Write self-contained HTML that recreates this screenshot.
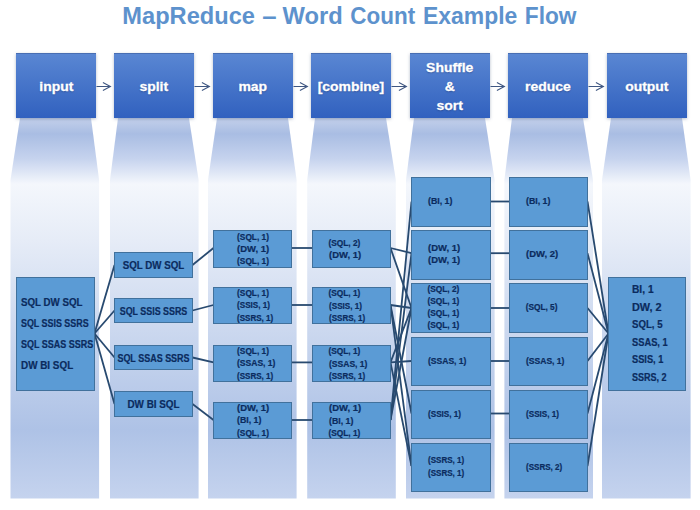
<!DOCTYPE html><html><head><meta charset="utf-8"><style>
html,body{margin:0;padding:0}
body{width:700px;height:510px;position:relative;overflow:hidden;background:#fff;font-family:"Liberation Sans",sans-serif;font-weight:bold}
.a{position:absolute}
.title{position:absolute;left:0;top:0;width:700px;text-align:center;color:#5b8cc8;font-size:23.3px;line-height:23px}
.hdr{position:absolute;background:linear-gradient(#5a87d3,#3161bf);box-shadow:inset 0 1px 0 rgba(50,80,140,0.45),0 1px 3px rgba(50,70,110,0.35);color:#fff;font-size:13.4px;text-align:center;display:flex;align-items:center;justify-content:center;line-height:19px;padding-top:2px;box-sizing:border-box}
.hdr span{display:inline-block;transform:scaleX(1.04);-webkit-text-stroke:0.3px #fff;text-shadow:0 1px 1.5px rgba(0,0,40,0.3)}
.bx{position:absolute;box-sizing:border-box;-webkit-text-stroke:0.2px #0b2b5e;background:#5b9bd5;border:1px solid #41719c;color:#0b2b5e;white-space:nowrap}
.s8{font-size:8px;line-height:12.7px}
</style></head><body>

<svg class="a" style="left:0;top:0" width="700" height="510">
<defs><linearGradient id="cg" x1="0" y1="119" x2="0" y2="499" gradientUnits="userSpaceOnUse">
<stop offset="0" stop-color="#c2cfea"/>
<stop offset="0.039" stop-color="#a9bde3"/>
<stop offset="0.105" stop-color="#c6d3ee"/>
<stop offset="0.171" stop-color="#f4f7fc"/>
<stop offset="0.318" stop-color="#e6ecf7"/>
<stop offset="0.818" stop-color="#aec2e6"/>
<stop offset="1" stop-color="#c5d3ee"/>
</linearGradient></defs>
<polygon fill="url(#cg)" points="20.0,118.0 91.0,118.0 99.1,180.0 99.1,498.5 10.5,498.5 10.5,180.0"/>
<polygon fill="url(#cg)" points="118.0,118.0 189.0,118.0 198.6,180.0 198.6,498.5 110.0,498.5 110.0,180.0"/>
<polygon fill="url(#cg)" points="217.0,118.0 288.0,118.0 296.6,180.0 296.6,498.5 208.0,498.5 208.0,180.0"/>
<polygon fill="url(#cg)" points="315.0,118.0 386.0,118.0 395.8,180.0 395.8,498.5 307.2,498.5 307.2,180.0"/>
<polygon fill="url(#cg)" points="414.0,118.0 485.0,118.0 494.6,180.0 494.6,498.5 406.0,498.5 406.0,180.0"/>
<polygon fill="url(#cg)" points="512.0,118.0 583.0,118.0 593.0,180.0 593.0,498.5 504.4,498.5 504.4,180.0"/>
<polygon fill="url(#cg)" points="611.0,118.0 682.0,118.0 690.6,180.0 690.6,498.5 602.0,498.5 602.0,180.0"/>
</svg>
<div class="a" style="left:123.45px;top:2.9px;color:#5d92cd;font-size:23.4px;line-height:26px;white-space:nowrap;transform:scaleX(1.010);transform-origin:66.00px 0">MapReduce</div><div class="a" style="left:262.50px;top:2.9px;color:#5d92cd;font-size:23.4px;line-height:26px;white-space:nowrap;transform:scaleX(1.100);transform-origin:6.50px 0">–</div><div class="a" style="left:283.30px;top:2.9px;color:#5d92cd;font-size:23.4px;line-height:26px;white-space:nowrap;transform:scaleX(1.015);transform-origin:28.95px 0">Word</div><div class="a" style="left:349.25px;top:2.9px;color:#5d92cd;font-size:23.4px;line-height:26px;white-space:nowrap;transform:scaleX(0.960);transform-origin:34.10px 0">Count</div><div class="a" style="left:421.80px;top:2.9px;color:#5d92cd;font-size:23.4px;line-height:26px;white-space:nowrap;transform:scaleX(0.980);transform-origin:48.50px 0">Example</div><div class="a" style="left:523.85px;top:2.9px;color:#5d92cd;font-size:23.4px;line-height:26px;white-space:nowrap;transform:scaleX(0.970);transform-origin:27.45px 0">Flow</div>
<div class="hdr" style="left:16.0px;top:53px;width:80px;height:65px"><span>input</span></div>
<div class="hdr" style="left:114.0px;top:53px;width:80px;height:65px"><span>split</span></div>
<div class="hdr" style="left:213.0px;top:53px;width:80px;height:65px"><span>map</span></div>
<div class="hdr" style="left:311.0px;top:53px;width:80px;height:65px"><span>[combine]</span></div>
<div class="hdr" style="left:410.0px;top:53px;width:80px;height:65px"><span>Shuffle<br>&amp;<br>sort</span></div>
<div class="hdr" style="left:508.0px;top:53px;width:80px;height:65px"><span>reduce</span></div>
<div class="hdr" style="left:607.0px;top:53px;width:80px;height:65px"><span>output</span></div>
<svg class="a" style="left:0;top:0" width="700" height="510">
<path d="M96.5 86.5 H110.4 M102.9 82.5 L110.4 86.5 L102.9 90.5" stroke="#3f5782" stroke-width="1.1" fill="none"/>
<path d="M194.5 86.5 H209.4 M201.9 82.5 L209.4 86.5 L201.9 90.5" stroke="#3f5782" stroke-width="1.1" fill="none"/>
<path d="M293.5 86.5 H307.4 M299.9 82.5 L307.4 86.5 L299.9 90.5" stroke="#3f5782" stroke-width="1.1" fill="none"/>
<path d="M391.5 86.5 H406.4 M398.9 82.5 L406.4 86.5 L398.9 90.5" stroke="#3f5782" stroke-width="1.1" fill="none"/>
<path d="M490.5 86.5 H504.4 M496.9 82.5 L504.4 86.5 L496.9 90.5" stroke="#3f5782" stroke-width="1.1" fill="none"/>
<path d="M588.5 86.5 H603.4 M595.9 82.5 L603.4 86.5 L595.9 90.5" stroke="#3f5782" stroke-width="1.1" fill="none"/>
</svg>
<svg class="a" style="left:0;top:0" width="700" height="510">
<line x1="94.5" y1="333.5" x2="114.5" y2="265.0" stroke="#284a70" stroke-width="1.8"/>
<line x1="94.5" y1="333.5" x2="114.5" y2="310.5" stroke="#284a70" stroke-width="1.8"/>
<line x1="94.5" y1="333.5" x2="114.5" y2="357.5" stroke="#284a70" stroke-width="1.8"/>
<line x1="94.5" y1="333.5" x2="114.5" y2="404.0" stroke="#284a70" stroke-width="1.8"/>
<line x1="192.5" y1="265.0" x2="213.5" y2="248.0" stroke="#284a70" stroke-width="1.8"/>
<line x1="192.5" y1="310.5" x2="213.5" y2="305.0" stroke="#284a70" stroke-width="1.8"/>
<line x1="192.5" y1="357.5" x2="213.5" y2="362.4" stroke="#284a70" stroke-width="1.8"/>
<line x1="192.5" y1="404.0" x2="213.5" y2="420.0" stroke="#284a70" stroke-width="1.8"/>
<line x1="291.5" y1="248.0" x2="312.5" y2="248.0" stroke="#284a70" stroke-width="1.8"/>
<line x1="291.5" y1="305.0" x2="312.5" y2="305.0" stroke="#284a70" stroke-width="1.8"/>
<line x1="291.5" y1="362.4" x2="312.5" y2="362.4" stroke="#284a70" stroke-width="1.8"/>
<line x1="291.5" y1="420.0" x2="312.5" y2="420.0" stroke="#284a70" stroke-width="1.8"/>
<line x1="390.5" y1="248.0" x2="411.5" y2="253.2" stroke="#284a70" stroke-width="1.8"/>
<line x1="390.5" y1="248.0" x2="411.5" y2="308.0" stroke="#284a70" stroke-width="1.8"/>
<line x1="390.5" y1="305.0" x2="411.5" y2="308.0" stroke="#284a70" stroke-width="1.8"/>
<line x1="390.5" y1="305.0" x2="411.5" y2="413.5" stroke="#284a70" stroke-width="1.8"/>
<line x1="390.5" y1="305.0" x2="411.5" y2="466.0" stroke="#284a70" stroke-width="1.8"/>
<line x1="390.5" y1="362.4" x2="411.5" y2="308.0" stroke="#284a70" stroke-width="1.8"/>
<line x1="390.5" y1="362.4" x2="411.5" y2="361.0" stroke="#284a70" stroke-width="1.8"/>
<line x1="390.5" y1="362.4" x2="411.5" y2="466.0" stroke="#284a70" stroke-width="1.8"/>
<line x1="390.5" y1="420.0" x2="411.5" y2="201.5" stroke="#284a70" stroke-width="1.8"/>
<line x1="390.5" y1="420.0" x2="411.5" y2="253.2" stroke="#284a70" stroke-width="1.8"/>
<line x1="390.5" y1="420.0" x2="411.5" y2="308.0" stroke="#284a70" stroke-width="1.8"/>
<line x1="490.5" y1="201.5" x2="509.5" y2="201.5" stroke="#284a70" stroke-width="1.8"/>
<line x1="490.5" y1="253.2" x2="509.5" y2="253.2" stroke="#284a70" stroke-width="1.8"/>
<line x1="490.5" y1="308.0" x2="509.5" y2="308.0" stroke="#284a70" stroke-width="1.8"/>
<line x1="490.5" y1="361.0" x2="509.5" y2="361.0" stroke="#284a70" stroke-width="1.8"/>
<line x1="490.5" y1="413.5" x2="509.5" y2="413.5" stroke="#284a70" stroke-width="1.8"/>
<line x1="587.5" y1="201.5" x2="608.5" y2="333.5" stroke="#284a70" stroke-width="1.8"/>
<line x1="587.5" y1="253.2" x2="608.5" y2="333.5" stroke="#284a70" stroke-width="1.8"/>
<line x1="587.5" y1="308.0" x2="608.5" y2="333.5" stroke="#284a70" stroke-width="1.8"/>
<line x1="587.5" y1="361.0" x2="608.5" y2="333.5" stroke="#284a70" stroke-width="1.8"/>
<line x1="587.5" y1="413.5" x2="608.5" y2="333.5" stroke="#284a70" stroke-width="1.8"/>
<line x1="587.5" y1="466.0" x2="608.5" y2="333.5" stroke="#284a70" stroke-width="1.8"/>
</svg>
<div class="bx" style="left:16.0px;top:277.0px;width:79.0px;height:114.0px;"><div class="a" style="left:3.8px;top:13.9px;font-size:10.3px;line-height:21px;transform:scaleX(0.946);transform-origin:0 0">SQL DW SQL</div><div class="a" style="left:3.8px;top:34.8px;font-size:10.3px;line-height:21px;transform:scaleX(0.864);transform-origin:0 0">SQL SSIS SSRS</div><div class="a" style="left:3.8px;top:55.7px;font-size:10.3px;line-height:21px;transform:scaleX(0.872);transform-origin:0 0">SQL SSAS SSRS</div><div class="a" style="left:3.8px;top:76.6px;font-size:10.3px;line-height:21px;transform:scaleX(0.960);transform-origin:0 0">DW BI SQL</div></div>
<div class="bx" style="left:114.0px;top:252.0px;width:79.0px;height:26.0px;"><div style="position:absolute;left:-20px;right:-20px;top:0.7px;text-align:center;font-size:10.3px;line-height:24.0px;transform:scaleX(0.946)">SQL DW SQL</div></div>
<div class="bx" style="left:114.0px;top:298.0px;width:79.0px;height:25.0px;"><div style="position:absolute;left:-20px;right:-20px;top:0.7px;text-align:center;font-size:10.3px;line-height:23.0px;transform:scaleX(0.864)">SQL SSIS SSRS</div></div>
<div class="bx" style="left:114.0px;top:345.0px;width:79.0px;height:25.0px;"><div style="position:absolute;left:-20px;right:-20px;top:0.7px;text-align:center;font-size:10.3px;line-height:23.0px;transform:scaleX(0.872)">SQL SSAS SSRS</div></div>
<div class="bx" style="left:114.0px;top:391.0px;width:79.0px;height:26.0px;"><div style="position:absolute;left:-20px;right:-20px;top:0.7px;text-align:center;font-size:10.3px;line-height:24.0px;transform:scaleX(0.960)">DW BI SQL</div></div>
<div class="bx" style="left:213.0px;top:230.0px;width:79.0px;height:38.0px;"><div style="position:absolute;top:0.2px;height:100%;display:flex;flex-direction:column;justify-content:center;left:23.1px;font-size:8.3px;line-height:12.40px"><div style="transform:scaleX(1.000);transform-origin:0 0">(SQL, 1)</div><div style="transform:scaleX(1.140);transform-origin:0 0">(DW, 1)</div><div style="transform:scaleX(1.000);transform-origin:0 0">(SQL, 1)</div></div></div>
<div class="bx" style="left:213.0px;top:287.0px;width:79.0px;height:37.0px;"><div style="position:absolute;top:0.2px;height:100%;display:flex;flex-direction:column;justify-content:center;left:23.1px;font-size:8.3px;line-height:12.40px"><div style="transform:scaleX(1.000);transform-origin:0 0">(SQL, 1)</div><div style="transform:scaleX(0.980);transform-origin:0 0">(SSIS, 1)</div><div style="transform:scaleX(0.970);transform-origin:0 0">(SSRS, 1)</div></div></div>
<div class="bx" style="left:213.0px;top:345.0px;width:79.0px;height:37.0px;"><div style="position:absolute;top:0.2px;height:100%;display:flex;flex-direction:column;justify-content:center;left:23.1px;font-size:8.3px;line-height:12.40px"><div style="transform:scaleX(1.000);transform-origin:0 0">(SQL, 1)</div><div style="transform:scaleX(1.030);transform-origin:0 0">(SSAS, 1)</div><div style="transform:scaleX(0.970);transform-origin:0 0">(SSRS, 1)</div></div></div>
<div class="bx" style="left:213.0px;top:402.0px;width:79.0px;height:37.0px;"><div style="position:absolute;top:0.2px;height:100%;display:flex;flex-direction:column;justify-content:center;left:23.1px;font-size:8.3px;line-height:12.40px"><div style="transform:scaleX(1.140);transform-origin:0 0">(DW, 1)</div><div style="transform:scaleX(1.060);transform-origin:0 0">(BI, 1)</div><div style="transform:scaleX(1.000);transform-origin:0 0">(SQL, 1)</div></div></div>
<div class="bx" style="left:312.0px;top:230.0px;width:79.0px;height:38.0px;"><div style="position:absolute;top:0.2px;height:100%;display:flex;flex-direction:column;justify-content:center;left:15.5px;font-size:8.3px;line-height:12.60px"><div style="transform:scaleX(1.000);transform-origin:0 0">(SQL, 2)</div><div style="transform:scaleX(1.140);transform-origin:0 0">(DW, 1)</div></div></div>
<div class="bx" style="left:312.0px;top:287.0px;width:79.0px;height:37.0px;"><div style="position:absolute;top:0.2px;height:100%;display:flex;flex-direction:column;justify-content:center;left:15.5px;font-size:8.3px;line-height:12.30px"><div style="transform:scaleX(1.000);transform-origin:0 0">(SQL, 1)</div><div style="transform:scaleX(0.980);transform-origin:0 0">(SSIS, 1)</div><div style="transform:scaleX(0.970);transform-origin:0 0">(SSRS, 1)</div></div></div>
<div class="bx" style="left:312.0px;top:345.0px;width:79.0px;height:37.0px;"><div style="position:absolute;top:0.2px;height:100%;display:flex;flex-direction:column;justify-content:center;left:15.5px;font-size:8.3px;line-height:12.30px"><div style="transform:scaleX(1.000);transform-origin:0 0">(SQL, 1)</div><div style="transform:scaleX(1.030);transform-origin:0 0">(SSAS, 1)</div><div style="transform:scaleX(0.970);transform-origin:0 0">(SSRS, 1)</div></div></div>
<div class="bx" style="left:312.0px;top:402.0px;width:79.0px;height:37.0px;"><div style="position:absolute;top:0.2px;height:100%;display:flex;flex-direction:column;justify-content:center;left:15.5px;font-size:8.3px;line-height:12.30px"><div style="transform:scaleX(1.140);transform-origin:0 0">(DW, 1)</div><div style="transform:scaleX(1.060);transform-origin:0 0">(BI, 1)</div><div style="transform:scaleX(1.000);transform-origin:0 0">(SQL, 1)</div></div></div>
<div class="bx" style="left:411.0px;top:177.0px;width:80.0px;height:50.0px;"><div style="position:absolute;top:-0.6px;height:100%;display:flex;flex-direction:column;justify-content:center;left:15.5px;font-size:8.3px;line-height:12.00px"><div style="transform:scaleX(1.060);transform-origin:0 0">(BI, 1)</div></div></div>
<div class="bx" style="left:411.0px;top:230.0px;width:80.0px;height:50.0px;"><div style="position:absolute;top:-0.6px;height:100%;display:flex;flex-direction:column;justify-content:center;left:15.5px;font-size:8.3px;line-height:12.60px"><div style="transform:scaleX(1.140);transform-origin:0 0">(DW, 1)</div><div style="transform:scaleX(1.140);transform-origin:0 0">(DW, 1)</div></div></div>
<div class="bx" style="left:411.0px;top:283.0px;width:80.0px;height:50.0px;"><div style="position:absolute;top:-0.6px;height:100%;display:flex;flex-direction:column;justify-content:center;left:15.5px;font-size:8.3px;line-height:12.00px"><div style="transform:scaleX(1.000);transform-origin:0 0">(SQL, 2)</div><div style="transform:scaleX(1.000);transform-origin:0 0">(SQL, 1)</div><div style="transform:scaleX(1.000);transform-origin:0 0">(SQL, 1)</div><div style="transform:scaleX(1.000);transform-origin:0 0">(SQL, 1)</div></div></div>
<div class="bx" style="left:411.0px;top:337.0px;width:80.0px;height:49.0px;"><div style="position:absolute;top:-0.6px;height:100%;display:flex;flex-direction:column;justify-content:center;left:15.5px;font-size:8.3px;line-height:12.00px"><div style="transform:scaleX(1.030);transform-origin:0 0">(SSAS, 1)</div></div></div>
<div class="bx" style="left:411.0px;top:390.0px;width:80.0px;height:49.0px;"><div style="position:absolute;top:-0.6px;height:100%;display:flex;flex-direction:column;justify-content:center;left:15.5px;font-size:8.3px;line-height:12.00px"><div style="transform:scaleX(0.980);transform-origin:0 0">(SSIS, 1)</div></div></div>
<div class="bx" style="left:411.0px;top:443.0px;width:80.0px;height:49.0px;"><div style="position:absolute;top:-0.6px;height:100%;display:flex;flex-direction:column;justify-content:center;left:15.5px;font-size:8.3px;line-height:12.60px"><div style="transform:scaleX(0.970);transform-origin:0 0">(SSRS, 1)</div><div style="transform:scaleX(0.970);transform-origin:0 0">(SSRS, 1)</div></div></div>
<div class="bx" style="left:509.0px;top:177.0px;width:79.0px;height:50.0px;"><div style="position:absolute;top:-0.6px;height:100%;display:flex;flex-direction:column;justify-content:center;left:15.7px;font-size:8.3px;line-height:12.00px"><div style="transform:scaleX(1.060);transform-origin:0 0">(BI, 1)</div></div></div>
<div class="bx" style="left:509.0px;top:230.0px;width:79.0px;height:50.0px;"><div style="position:absolute;top:-0.6px;height:100%;display:flex;flex-direction:column;justify-content:center;left:15.7px;font-size:8.3px;line-height:12.00px"><div style="transform:scaleX(1.140);transform-origin:0 0">(DW, 2)</div></div></div>
<div class="bx" style="left:509.0px;top:283.0px;width:79.0px;height:50.0px;"><div style="position:absolute;top:-0.6px;height:100%;display:flex;flex-direction:column;justify-content:center;left:15.7px;font-size:8.3px;line-height:12.00px"><div style="transform:scaleX(1.000);transform-origin:0 0">(SQL, 5)</div></div></div>
<div class="bx" style="left:509.0px;top:337.0px;width:79.0px;height:49.0px;"><div style="position:absolute;top:-0.6px;height:100%;display:flex;flex-direction:column;justify-content:center;left:15.7px;font-size:8.3px;line-height:12.00px"><div style="transform:scaleX(1.030);transform-origin:0 0">(SSAS, 1)</div></div></div>
<div class="bx" style="left:509.0px;top:390.0px;width:79.0px;height:49.0px;"><div style="position:absolute;top:-0.6px;height:100%;display:flex;flex-direction:column;justify-content:center;left:15.7px;font-size:8.3px;line-height:12.00px"><div style="transform:scaleX(0.980);transform-origin:0 0">(SSIS, 1)</div></div></div>
<div class="bx" style="left:509.0px;top:443.0px;width:79.0px;height:49.0px;"><div style="position:absolute;top:-0.6px;height:100%;display:flex;flex-direction:column;justify-content:center;left:15.7px;font-size:8.3px;line-height:12.00px"><div style="transform:scaleX(0.970);transform-origin:0 0">(SSRS, 2)</div></div></div>
<div class="bx" style="left:608.0px;top:277.0px;width:78.0px;height:114.0px;"><div class="a" style="left:23px;top:3px;font-size:10.5px;line-height:17.6px"><div style="transform:scaleX(0.972);transform-origin:0 0">BI, 1</div><div style="transform:scaleX(1.035);transform-origin:0 0">DW, 2</div><div style="transform:scaleX(0.918);transform-origin:0 0">SQL, 5</div><div style="transform:scaleX(0.886);transform-origin:0 0">SSAS, 1</div><div style="transform:scaleX(0.882);transform-origin:0 0">SSIS, 1</div><div style="transform:scaleX(0.859);transform-origin:0 0">SSRS, 2</div></div></div>
</body></html>
